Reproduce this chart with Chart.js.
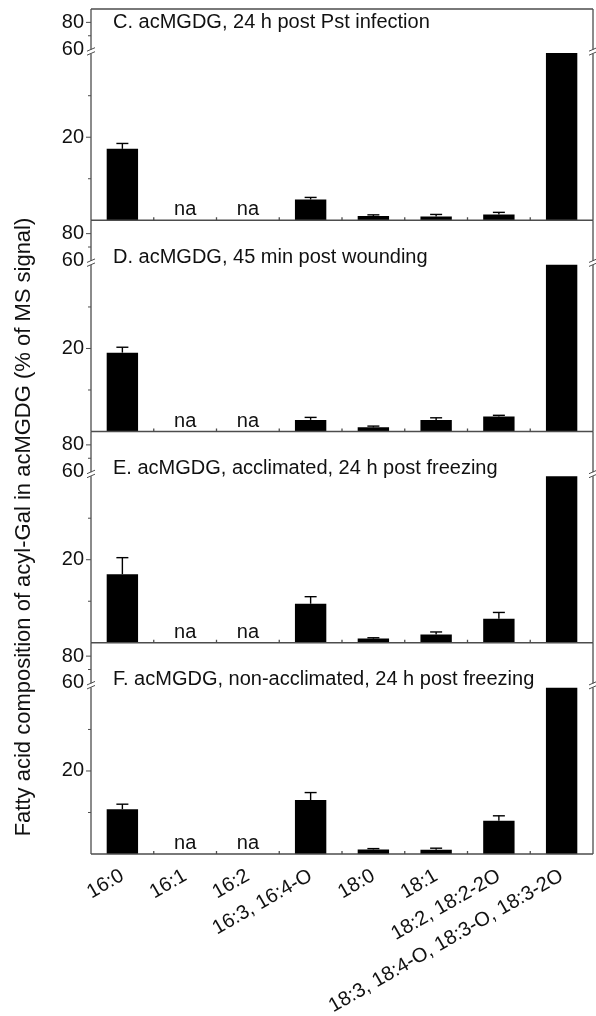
<!DOCTYPE html>
<html>
<head>
<meta charset="utf-8">
<script src="https://cdn.jsdelivr.net/npm/chart.js@4.4.1/dist/chart.umd.min.js"></script>
<style>
  html, body { margin: 0; padding: 0; background: #fff; }
  #wrap { position: relative; width: 596px; height: 1016px; }
</style>
</head>
<body>
<div id="wrap"><canvas id="acylChart" width="596" height="1016"></canvas></div>
<script>
const categories = ['16:0', '16:1', '16:2', '16:3, 16:4-O', '18:0', '18:1', '18:2, 18:2-2O', '18:3, 18:4-O, 18:3-O, 18:3-2O'];

const panelTitles = [
  'C. acMGDG, 24 h post Pst infection',
  'D. acMGDG, 45 min post wounding',
  'E. acMGDG, acclimated, 24 h post freezing',
  'F. acMGDG, non-acclimated, 24 h post freezing'
];

// % of MS signal, null = not analysed (na)
const valuesC = [17.2, null, null, 5.0, 1.0, 0.9, 1.4, 45];
const errorsC = [1.3, 0, 0, 0.5, 0.3, 0.5, 0.5, 0];
const valuesD = [19.0, null, null, 2.8, 1.0, 2.8, 3.6, 43];
const errorsD = [1.3, 0, 0, 0.6, 0.3, 0.5, 0.3, 0];
const valuesE = [16.5, null, null, 9.4, 1.0, 2.0, 5.8, 42];
const errorsE = [4.0, 0, 0, 1.7, 0.2, 0.6, 1.5, 0];
const valuesF = [10.8, null, null, 13.0, 1.1, 1.0, 8.0, 41];
const errorsF = [1.2, 0, 0, 1.8, 0.2, 0.4, 1.2, 0];

const majorTicks = [20, 60, 80];
const minorTicks = [10, 30, 70];

const yTitle = 'Fatty acid composition of acyl-Gal in acMGDG (% of MS signal)';

const panels = [
  { id: 'yC', title: panelTitles[0], values: valuesC, errors: errorsC },
  { id: 'yD', title: panelTitles[1], values: valuesD, errors: errorsD },
  { id: 'yE', title: panelTitles[2], values: valuesE, errors: errorsE },
  { id: 'yF', title: panelTitles[3], values: valuesF, errors: errorsF }
];

const FONT = 'Liberation Sans, Arial, sans-serif';
const INK = '#111';
const FRAME = '#4d4d4d';

// y axis with a break between 40 and 60
const BREAK_FROM = 40;
const BREAK_TO = 60;
const LOW_END = 0.786;   // share of the axis used by 0..40
const GAP_END = 0.81;    // share used up to 60

class BrokenLinearScale extends Chart.LinearScale {
  valueToDecimal(v) {
    if (v <= BREAK_FROM) return (v - this.min) / (BREAK_FROM - this.min) * LOW_END;
    if (v <= BREAK_TO) return LOW_END + (v - BREAK_FROM) / (BREAK_TO - BREAK_FROM) * (GAP_END - LOW_END);
    return GAP_END + (v - BREAK_TO) / (this.max - BREAK_TO) * (1 - GAP_END);
  }
  getPixelForValue(value) {
    if (value === null || isNaN(value)) return NaN;
    return this.getPixelForDecimal(this.valueToDecimal(value));
  }
  getValueForPixel(pixel) {
    const d = this.getDecimalForPixel(pixel);
    if (d <= LOW_END) return this.min + d / LOW_END * (BREAK_FROM - this.min);
    if (d <= GAP_END) return BREAK_FROM + (d - LOW_END) / (GAP_END - LOW_END) * (BREAK_TO - BREAK_FROM);
    return BREAK_TO + (d - GAP_END) / (1 - GAP_END) * (this.max - BREAK_TO);
  }
}
BrokenLinearScale.id = 'brokenLinear';
BrokenLinearScale.defaults = Chart.LinearScale.defaults;
Chart.register(BrokenLinearScale);

function panelAxis() {
  return {
    type: 'brokenLinear',
    min: 0,
    max: 90,
    position: 'left',
    stack: 'panels',
    stackWeight: 1,
    grid: { display: false, drawTicks: false },
    border: { display: false },
    afterBuildTicks: s => { s.ticks = [...minorTicks, ...majorTicks].sort((a, b) => a - b).map(v => ({ value: v })); },
    afterFit: s => {
      s.width = 91;
      s.paddingTop = 0;
      s.paddingBottom = 0;
    },
    ticks: {
      autoSkip: false,
      padding: 7,
      color: INK,
      font: { family: FONT, size: 20 },
      callback: v => majorTicks.includes(v) ? String(v) : ''
    }
  };
}

function line(ctx, x1, y1, x2, y2) {
  ctx.beginPath();
  ctx.moveTo(x1, y1);
  ctx.lineTo(x2, y2);
  ctx.stroke();
}

function breakMark(ctx, x, y) {
  ctx.save();
  ctx.fillStyle = '#fff';
  ctx.fillRect(x - 2, y - 2, 4, 4);
  ctx.strokeStyle = FRAME;
  ctx.lineWidth = 1;
  line(ctx, x - 4, y - 0.5, x + 4, y - 4);
  line(ctx, x - 4, y + 3.5, x + 4, y);
  ctx.restore();
}

const framePlugin = {
  id: 'panelFrame',
  afterDatasetsDraw(chart) {
    const ctx = chart.ctx;
    const area = chart.chartArea;
    const xs = chart.scales.x;
    const step = xs.getPixelForValue(1) - xs.getPixelForValue(0);

    ctx.save();
    ctx.strokeStyle = FRAME;
    ctx.lineWidth = 1.3;
    line(ctx, area.left, area.top, area.right, area.top);

    panels.forEach((p, pi) => {
      const ys = chart.scales[p.id];
      const y0 = ys.getPixelForValue(0);
      const yTop = ys.top;
      const yBreak = (ys.getPixelForValue(BREAK_FROM) + ys.getPixelForValue(BREAK_TO)) / 2;

      // error bars (upper half only)
      ctx.strokeStyle = '#000';
      ctx.lineWidth = 1.4;
      p.values.forEach((v, i) => {
        const e = p.errors[i];
        if (v === null || !e) return;
        const cx = xs.getPixelForValue(i);
        const yv = ys.getPixelForValue(v);
        const ye = ys.getPixelForValue(v + e);
        line(ctx, cx, yv, cx, ye);
        line(ctx, cx - 6, ye, cx + 6, ye);
      });

      // frame
      ctx.strokeStyle = FRAME;
      ctx.lineWidth = 1.3;
      line(ctx, area.left, y0, area.right, y0);
      line(ctx, area.left, yTop, area.left, y0);
      line(ctx, area.right, yTop, area.right, y0);
      for (let k = 1; k < categories.length; k++) {
        const bx = xs.getPixelForValue(k) - step / 2;
        line(ctx, bx, y0, bx, y0 - 3);
      }
      ctx.lineWidth = 1;
      majorTicks.filter(v => v !== BREAK_TO).forEach(v => {
        const ty = ys.getPixelForValue(v);
        line(ctx, area.left - 5, ty, area.left, ty);
      });
      minorTicks.forEach(v => {
        const ty = ys.getPixelForValue(v);
        line(ctx, area.left - 3, ty, area.left, ty);
      });
      breakMark(ctx, area.left, yBreak);
      breakMark(ctx, area.right, yBreak);

      // panel title and "na" markers
      ctx.fillStyle = INK;
      ctx.font = '20px ' + FONT;
      ctx.textAlign = 'left';
      ctx.textBaseline = 'middle';
      ctx.fillText(p.title, area.left + 22, yTop + (pi === 0 ? 13 : 37));
      ctx.textAlign = 'center';
      ctx.textBaseline = 'alphabetic';
      p.values.forEach((v, i) => {
        if (v === null) ctx.fillText('na', xs.getPixelForValue(i), y0 - 5);
      });
    });

    // shared y title
    ctx.translate(24, 527);
    ctx.rotate(-Math.PI / 2);
    ctx.fillStyle = INK;
    ctx.font = '22px ' + FONT;
    ctx.textAlign = 'center';
    ctx.textBaseline = 'middle';
    ctx.fillText(yTitle, 0, 0);
    ctx.restore();
  }
};

const scales = {
  x: {
    type: 'category',
    grid: { display: false, drawTicks: false },
    border: { display: false },
    afterFit: s => { s.height = 162; },
    ticks: {
      autoSkip: false,
      minRotation: 30,
      maxRotation: 30,
      padding: 10,
      color: INK,
      font: { family: FONT, size: 20 }
    }
  }
};
// stacked axes are laid out bottom-up, so the last panel goes in first
panels.slice().reverse().forEach(p => { scales[p.id] = panelAxis(); });

new Chart(document.getElementById('acylChart'), {
  type: 'bar',
  data: {
    labels: categories,
    datasets: panels.map(p => ({
      label: p.title,
      data: p.values,
      yAxisID: p.id,
      backgroundColor: '#000',
      borderWidth: 0,
      grouped: false,
      barPercentage: 0.5,
      categoryPercentage: 1
    }))
  },
  options: {
    responsive: false,
    animation: false,
    layout: { padding: { top: 9, right: 3, left: 0, bottom: 0 } },
    plugins: { legend: { display: false }, tooltip: { enabled: false } },
    scales
  },
  plugins: [framePlugin]
});
</script>
</body>
</html>
